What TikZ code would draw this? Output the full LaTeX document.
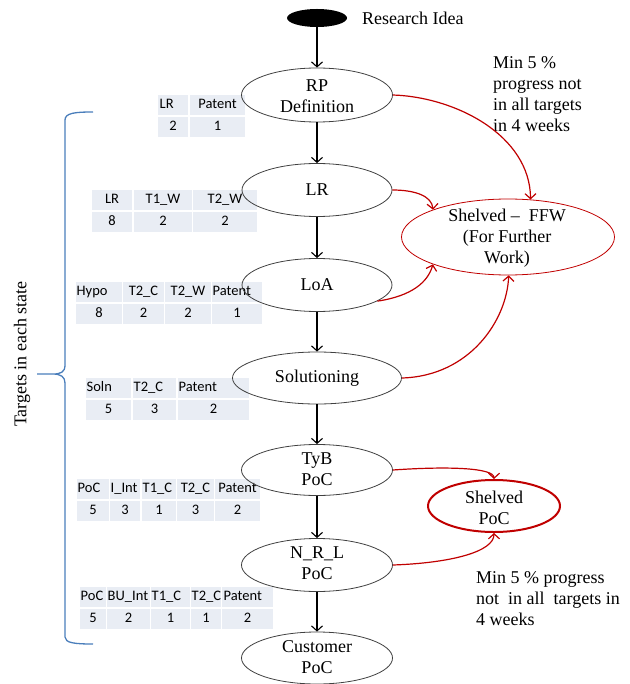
\documentclass[tikz,border=0pt]{standalone}
\usepackage{fontspec}
\setmainfont{Liberation Serif}
\newfontfamily\tabfont{Carlito}
\usetikzlibrary{shapes.geometric,arrows.meta}
\definecolor{myred}{HTML}{C00000}
\definecolor{ellgray}{HTML}{404040}
\definecolor{cellfill}{HTML}{E9EDF4}
\definecolor{bracecol}{HTML}{4A7EBB}
\newcommand{\mytable}[3]{%
  \foreach \xa/\xb/\hx/\an/\h/\v [count=\i] in {#3} {
    \fill[cellfill] (\xa,#2) rectangle (\xb,#2+20);
    \fill[cellfill] (\xa,#2+22) rectangle (\xb,#2+42);
    \node[tabtext,anchor=\an] (#1h\i) at (\hx,#2+10) {\h};
    \node[tabtext] (#1v\i) at ({(\xa+\xb)/2},#2+32) {\v};
  }%
}
\begin{document}
\begin{tikzpicture}[x=1pt,y=-1pt,
  stateell/.style={ellipse,draw=ellgray,line width=0.8pt,inner sep=0pt},
  lbl/.style={font=\fontsize{18}{21}\selectfont,align=center,inner sep=0pt},
  note/.style={font=\fontsize{18}{21}\selectfont,align=left,inner sep=0pt},
  tabtext/.style={font=\tabfont\fontsize{14.5}{17}\selectfont,inner sep=1pt,text height=10pt,text depth=3pt},
  blk/.style={-{Straight Barb[length=5pt,width=11pt]},line width=1.1pt,draw=black},
  rarr/.style={-{Straight Barb[length=5pt,width=11pt]},line width=1.2pt,draw=myred}]
\useasboundingbox (0,0) rectangle (629,684);

% tables
\mytable{ta}{95}{158/188/158.5/west/LR/2, 190/245/217.5/center/Patent/1}
\mytable{tb}{190}{92/132/112/center/LR/8, 134/192/163/center/T1\_W/2, 193/257/225/center/T2\_W/2}
\mytable{tc}{282}{76/122/75.5/west/Hypo/8, 123/164/143.5/center/T2\_C/2, 165/211/188/center/T2\_W/2, 212/262/211.5/west/Patent/1}
\mytable{td}{378}{86/131/85.5/west/Soln/5, 133/176/132.5/west/T2\_C/3, 178/249/177.5/west/Patent/2}
\mytable{te}{479}{77/109/76.5/west/PoC/5, 110/140/109.5/west/I\_Int/3, 142/176/141.5/west/T1\_C/1, 177/214/195.5/center/T2\_C/3, 215/260/237.5/center/Patent/2}
\mytable{tf}{587}{80/106/79.5/west/PoC/5, 107/150/106.5/west/BU\_Int/2, 151/190/150.5/west/T1\_C/1, 191/221/190.5/west/T2\_C/1, 222/273/222.5/west/Patent/2}

% state ellipses
\node[ellipse,fill=black,minimum width=60pt,minimum height=18pt,inner sep=0pt] (start) at (317,18) {};
\node[stateell,minimum width=151pt,minimum height=54pt] (rp) at (317,95) {};
\node[stateell,minimum width=150pt,minimum height=53pt] (lr) at (317,190) {};
\node[stateell,minimum width=150pt,minimum height=53pt] (loa) at (317,285) {};
\node[stateell,minimum width=169pt,minimum height=52pt] (sol) at (317,378) {};
\node[stateell,minimum width=151pt,minimum height=51pt] (tyb) at (317,470) {};
\node[stateell,minimum width=151pt,minimum height=53pt] (nrl) at (317,565) {};
\node[stateell,minimum width=151pt,minimum height=52pt] (cust) at (317,658) {};
\node[ellipse,draw=myred,line width=0.8pt,minimum width=213pt,minimum height=76pt,inner sep=0pt] (ffw) at (508,237) {};
\node[ellipse,draw=myred,line width=2pt,minimum width=132pt,minimum height=52pt,inner sep=0pt] (shp) at (494,506) {};

% texts
\node[note,anchor=west] (rtxt) at (362,18) {Research Idea};
\node[lbl] (rpt) at (317,96) {RP\\Definition};
\node[lbl] (lrt) at (317,190) {LR};
\node[lbl] (loat) at (317,285) {LoA};
\node[lbl] (solt) at (317,378) {Solutioning};
\node[lbl] (tybt) at (317,469) {TyB\\PoC};
\node[lbl] (nrlt) at (317,563) {N\_R\_L\\PoC};
\node[lbl] (custt) at (317,657) {Customer\\PoC};
\node[lbl] (ffwt) at (507,238) {Shelved --\enspace FFW\\(For Further\\Work)};
\node[lbl] (shpt) at (494,508) {Shelved\\PoC};
\node[note,anchor=north west] (n1) at (493,56) {Min 5 \%\\progress not\\in all targets\\in 4 weeks};
\node[note,anchor=north west] (n2) at (476,571) {Min 5 \% progress\\not\enspace in all\enspace targets in\\4 weeks};
\node[lbl,rotate=90] (brt) at (22,354) {Targets in each state};

% black arrows
\draw[blk] (start.south) -- (rp.north);
\draw[blk] (rp.south) -- (lr.north);
\draw[blk] (lr.south) -- (loa.north);
\draw[blk] (loa.south) -- (sol.north);
\draw[blk] (sol.south) -- (tyb.north);
\draw[blk] (tyb.south) -- (nrl.north);
\draw[blk] (nrl.south) -- (cust.north);

% red arrows
\draw[rarr] (rp.east) .. controls (455,97) and (530,135) .. (ffw.59);
\draw[rarr] (lr.east) .. controls (415,190) and (432,196) .. (ffw.160);
\draw[rarr] (loa.-15) .. controls (412,296) and (428,282) .. (ffw.200);
\draw[rarr] (sol.east) .. controls (470,376) and (507,320) .. (ffw.271);
\draw[rarr] (tyb.east) .. controls (450,466) and (494,468) .. (shp.north);
\draw[rarr] (nrl.east) .. controls (450,563) and (494,552) .. (shp.south);

% brace
\draw[bracecol,line width=1.3pt] (93,112) .. controls (75,112) and (65,113) .. (65,120)
  -- (65,365) .. controls (65,372) and (61,374) .. (53,374) -- (37,374)
  (53,374) .. controls (61,374) and (65,377) .. (65,383)
  -- (65,637) .. controls (65,643) and (75,644) .. (93,644);
\end{tikzpicture}
\end{document}
